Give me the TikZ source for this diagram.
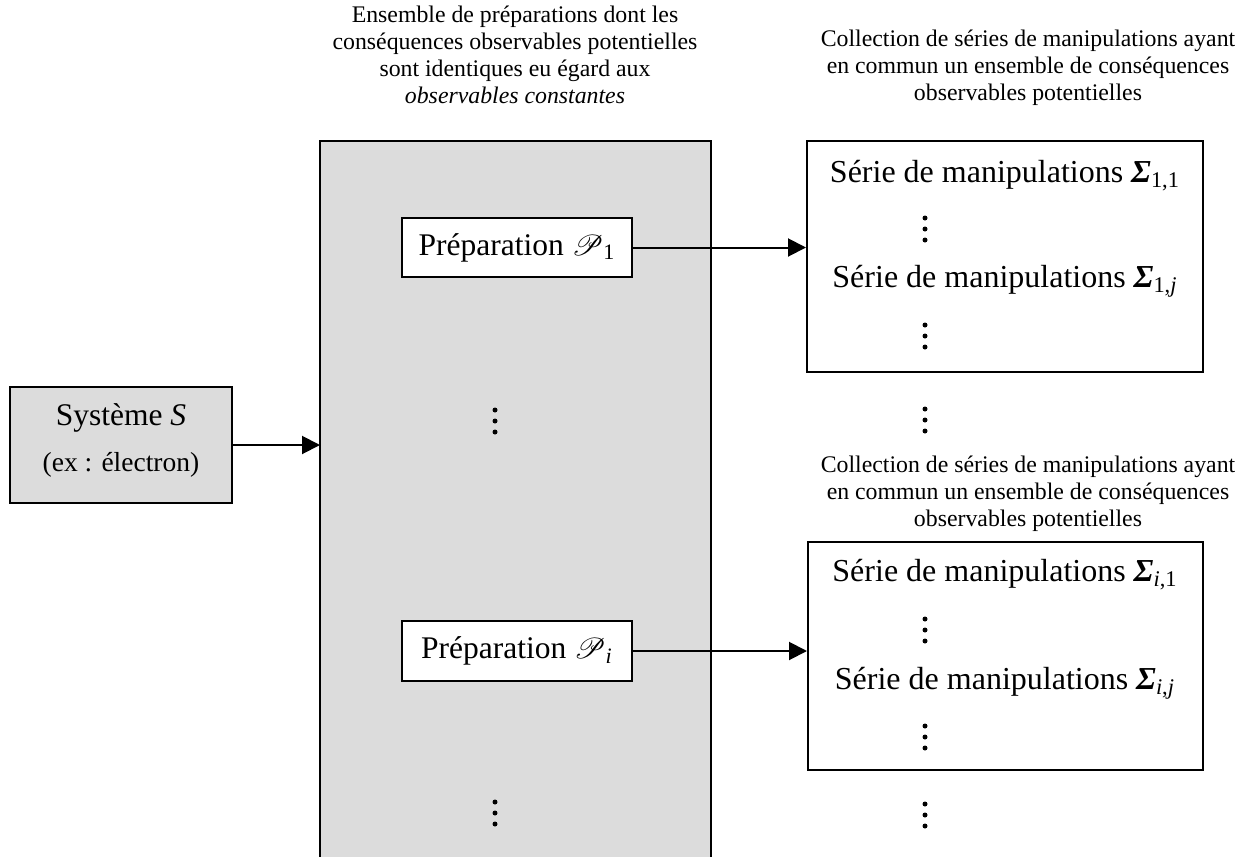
\documentclass[tikz,border=0pt]{standalone}
\usepackage{fontspec}
\setmainfont{Liberation Serif}
\usepackage{mathrsfs}
\usetikzlibrary{arrows.meta}
\definecolor{boxgray}{RGB}{220,220,220}
\newcommand\Sig[1]{{\bfseries\itshape Σ}\textsubscript{#1}}
\newcommand\Prep[1]{$\mathscr{P}$\textsubscript{#1}}
\begin{document}
\begin{tikzpicture}[x=0.5pt,y=-0.5pt,
  box/.style={draw, line width=1pt, inner sep=0pt},
  hdr/.style={align=center, font=\fontsize{11.9pt}{13.5pt}\selectfont, inner sep=0pt},
  txt/.style={font=\fontsize{15.75pt}{18pt}\selectfont, inner sep=0pt},
  stxt/.style={font=\fontsize{16pt}{18pt}\selectfont, inner sep=0pt},
  vdotsnode/.style={inner sep=0pt, minimum width=4pt, minimum height=14pt,
    path picture={\fill (path picture bounding box.center) circle (1.25pt)
      +(0,5.5pt) circle (1.25pt) +(0,-5.5pt) circle (1.25pt);}},
  arr/.style={line width=1pt, -{Triangle[length=9pt,width=9pt]}}]
\useasboundingbox (0,0) rectangle (1250,857);
% headers
\node[hdr] (h1) at (515,54.5) {Ensemble de préparations dont les\\conséquences observables potentielles\\sont identiques eu égard aux\\\textit{observables constantes}};
\node[hdr] (h2) at (1028,68) {Collection de séries de manipulations ayant\\en commun un ensemble de conséquences\\observables potentielles};
\node[hdr] (h3) at (1028,494) {Collection de séries de manipulations ayant\\en commun un ensemble de conséquences\\observables potentielles};
% big gray box (open at bottom)
\fill[boxgray] (320,141) rectangle (711,857);
\draw[line width=1pt] (320,857) -- (320,141) -- (711,141) -- (711,857);
\coordinate (gl) at (320,445);
% system box
\node[box, fill=boxgray, minimum width=111pt, minimum height=58pt] (sys) at (121,445) {};
\node[txt] (syst) at (121,418) {Système \textit{S}};
\node[inner sep=0pt, font=\fontsize{13.75pt}{16pt}\selectfont] (syse) at (121,465) {(ex : électron)};
% preparations
\node[box, fill=white, minimum width=115pt, minimum height=29.5pt, txt] (p1) at (517,247.5) {Préparation \Prep{1}};
\node[box, fill=white, minimum width=115pt, minimum height=30pt, txt] (pi) at (517,651) {Préparation \Prep{\textit{i}}};
\node[vdotsnode] (gd1) at (495,421) {};
\node[vdotsnode] (gd2) at (495,813) {};
% collection boxes
\node[box, fill=white, minimum width=198pt, minimum height=115.5pt] (c1) at (1005,256.5) {};
\node[stxt] (s11) at (1005,176) {Série de manipulations \Sig{1,1}};
\node[vdotsnode] (cd1) at (925,229) {};
\node[stxt] (s1j) at (1005,281) {Série de manipulations \Sig{1,\textit{j}}};
\node[vdotsnode] (cd2) at (925,336) {};
\node[vdotsnode] (md) at (925,420) {};
\node[box, fill=white, minimum width=197.5pt, minimum height=114pt] (c2) at (1005.5,656) {};
\node[stxt] (si1) at (1005,575) {Série de manipulations \Sig{\textit{i},1}};
\node[vdotsnode] (cd3) at (925,630) {};
\node[stxt] (sij) at (1005,683) {Série de manipulations \Sig{\textit{i},\textit{j}}};
\node[vdotsnode] (cd4) at (925,737) {};
\node[vdotsnode] (bd) at (925,815) {};
% arrows
\draw[arr] (sys.east) -- (gl);
\draw[arr] (p1.east) -- (c1.west |- p1.east);
\draw[arr] (pi.east) -- (c2.west |- pi.east);
\end{tikzpicture}
\end{document}
